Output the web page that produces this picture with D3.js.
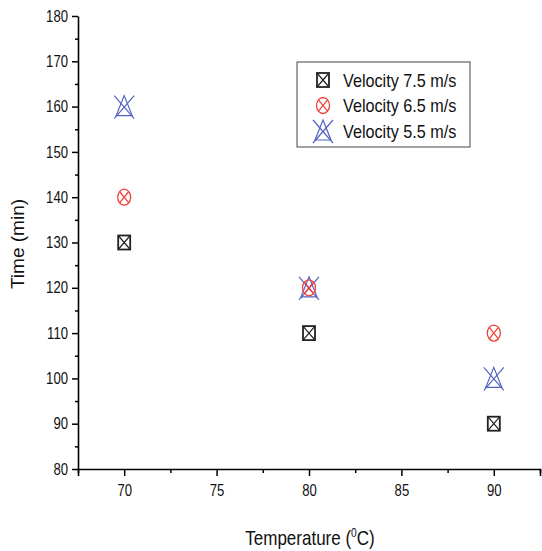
<!DOCTYPE html>
<html>
<head>
<meta charset="utf-8">
<script src="https://cdn.jsdelivr.net/npm/d3@7"></script>
<style>
  body { margin: 0; background: #fff; }
  text { font-family: "Liberation Sans", Arial, sans-serif; fill: #111; }
</style>
</head>
<body>
<script>
// data
const temps = [70, 80, 90];
const v75 = [130, 110, 90];
const v65 = [140, 120, 110];
const v55 = [160, 120, 100];
const seriesNames = ["Velocity 7.5 m/s", "Velocity 6.5 m/s", "Velocity 5.5 m/s"];
const xTicks = [70, 75, 80, 85, 90];
const yTicks = [80, 90, 100, 110, 120, 130, 140, 150, 160, 170, 180];

const W = 542, H = 551;
const narrow = 0.82; // the original font is a condensed Arial, squeeze the regular one
const svg = d3.select("body").append("svg")
  .attr("width", W).attr("height", H);

const x = d3.scaleLinear().domain([67.5, 92.5]).range([78, 540]);
const y = d3.scaleLinear().domain([80, 180]).range([469, 16]);

// x axis, minor + major ticks
const gx = svg.append("g").attr("transform", "translate(0," + y(80) + ")");
gx.call(d3.axisBottom(x).tickValues(d3.range(67.5, 93, 5)).tickSize(4).tickFormat(""));
gx.selectAll(".tick line").attr("stroke-width", 1.5);
gx.select(".domain").remove();
const gx2 = svg.append("g").attr("transform", "translate(0," + y(80) + ")");
gx2.call(d3.axisBottom(x).tickValues(xTicks).tickSize(7).tickPadding(9));
gx2.selectAll("text").style("font-size", "16px").attr("transform", "scale(" + narrow + ",1)");
gx2.selectAll(".tick line").attr("stroke-width", 1.5);
gx2.select(".domain").attr("stroke-width", 1.6);

// y axis
const gy = svg.append("g").attr("transform", "translate(" + x(67.5) + ",0)");
gy.call(d3.axisLeft(y).tickValues(d3.range(85, 180, 10)).tickSize(3).tickFormat(""));
gy.selectAll(".tick line").attr("stroke-width", 1.5);
gy.select(".domain").remove();
const gy2 = svg.append("g").attr("transform", "translate(" + x(67.5) + ",0)");
gy2.call(d3.axisLeft(y).tickValues(yTicks).tickSize(6).tickSizeOuter(0));
gy2.selectAll("text").style("font-size", "16px")
  .attr("x", -10 / narrow).attr("transform", "scale(" + narrow + ",1)");
gy2.selectAll(".tick line").attr("stroke-width", 1.5);
gy2.select(".domain").attr("stroke-width", 1.6);

// axis titles
const xt = svg.append("g").attr("transform", "translate(310,545) scale(0.85,1)")
  .append("text")
  .attr("text-anchor", "middle")
  .style("font-size", "20px");
xt.append("tspan").text("Temperature (");
xt.append("tspan").attr("dy", -8).style("font-size", "12px").text("0");
xt.append("tspan").attr("dy", 8).text("C)");

svg.append("text")
  .attr("transform", "translate(24,244) rotate(-90)")
  .attr("text-anchor", "middle")
  .style("font-size", "19px")
  .text("Time (min)");

// marker drawing
function boxX(g) {
  g.append("rect").attr("x", -6).attr("y", -7).attr("width", 12).attr("height", 14)
    .attr("fill", "none").attr("stroke", "#222").attr("stroke-width", 1.8);
  g.append("path").attr("d", "M-6,-7L6,7M6,-7L-6,7")
    .attr("fill", "none").attr("stroke", "#222").attr("stroke-width", 1.2);
}
function circX(g) {
  g.append("ellipse").attr("rx", 6.5).attr("ry", 8)
    .attr("fill", "none").attr("stroke", "#f0403a").attr("stroke-width", 1.3);
  g.append("path").attr("d", "M-4.6,-5.7L4.6,5.7M4.6,-5.7L-4.6,5.7")
    .attr("fill", "none").attr("stroke", "#f0403a").attr("stroke-width", 1.2);
}
function triX(g) {
  g.append("path").attr("d", "M0,-11L8,9L-8,9Z")
    .attr("fill", "none").attr("stroke", "#5563c0").attr("stroke-width", 1.2);
  g.append("path").attr("d", "M-10,-11L10,12M10,-11L-10,12")
    .attr("fill", "none").attr("stroke", "#5563c0").attr("stroke-width", 1.2);
}
const markers = [boxX, circX, triX];
const series = [v75, v65, v55];

// blue first so black/red sit on top where they overlap
[2, 1, 0].forEach(si => {
  svg.selectAll(null)
    .data(temps.map((t, i) => ({t: t, v: series[si][i]})))
    .enter().append("g")
    .attr("transform", d => "translate(" + x(d.t) + "," + y(d.v) + ")")
    .each(function() { markers[si](d3.select(this)); });
});

// legend
const lg = svg.append("g");
lg.append("rect").attr("x", 297).attr("y", 62).attr("width", 173).attr("height", 85)
  .attr("fill", "#fff").attr("stroke", "#444").attr("stroke-width", 1);
seriesNames.forEach((n, i) => {
  const cy = 80 + i * 25.5;
  markers[i](lg.append("g").attr("transform", "translate(323," + cy + ")"));
  lg.append("g").attr("transform", "translate(343," + (cy + 6.5) + ") scale(0.9,1)")
    .append("text").style("font-size", "18px").text(n);
});
</script>
</body>
</html>
